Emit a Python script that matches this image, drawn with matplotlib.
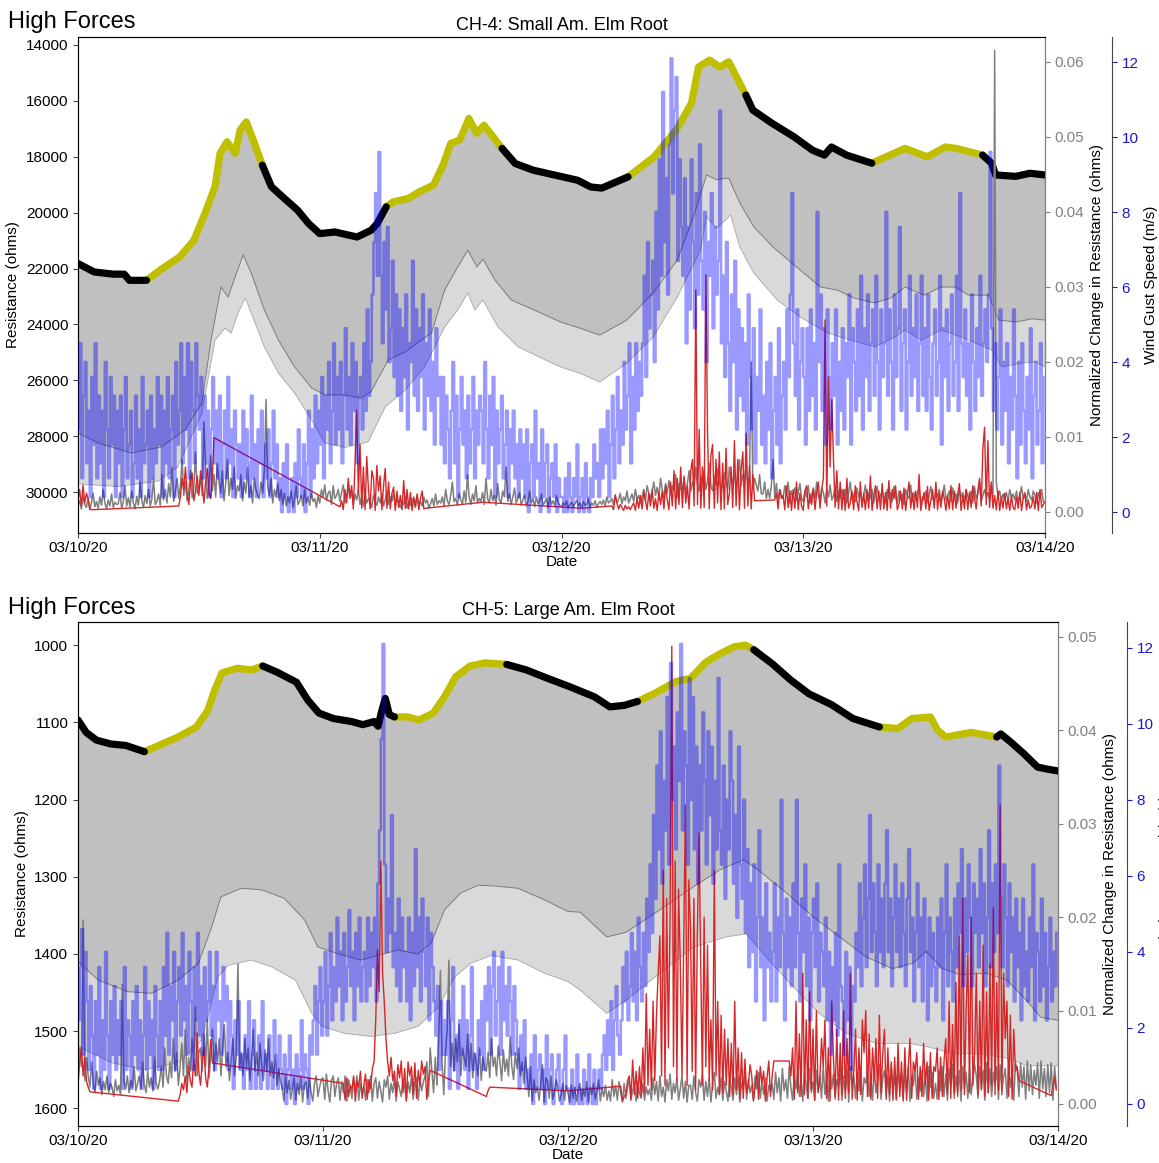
import numpy as np
import matplotlib
matplotlib.use("Agg")
import matplotlib.pyplot as plt

plt.rcParams['font.family'] = ['Liberation Sans', 'DejaVu Sans']

# ---------------- shared ----------------
X_TICKS_H = [0, 24, 48, 72, 96]
X_TICK_LABELS = ['03/10/20', '03/11/20', '03/12/20', '03/13/20', '03/14/20']
SUPER = "High Forces"
TITLE4 = "CH-4: Small Am. Elm Root"
TITLE5 = "CH-5: Large Am. Elm Root"

# ---------------- CH-4 (top) ----------------
RES4_T = [0, 1.6, 3.5, 4.6, 5.1, 6.8, 8.2, 10.1, 11.5, 12.6, 13.6, 14.1, 14.8, 15.6, 16.1, 16.7, 17.4, 18.3,
          19.2, 20.3, 21.8, 22.9, 24.0, 25.5, 27.7, 29.1, 29.7, 30.6, 31.3, 32.8, 33.9, 35.3, 36.3, 37.0,
          37.9, 38.8, 39.6, 40.3, 41.2, 42.1, 43.4, 45.2, 47.4, 49.6, 50.9, 52.0, 54.6, 57.2, 59.4, 60.9,
          61.6, 62.7, 63.7, 64.6, 66.3, 67.0, 68.9, 71.1, 72.9, 74.1, 74.8, 76.3, 78.8, 82.1, 84.3, 86.1,
          87.2, 89.8, 90.7, 91.1, 93.1, 94.5, 96.0]
RES4_V = [21820, 22120, 22200, 22200, 22420, 22420, 22040, 21580, 20990, 20030, 19070, 17880, 17460, 17880,
          17040, 16750, 17400, 18300, 19070, 19430, 19910, 20390, 20750, 20690, 20870, 20630, 20390, 19790,
          19610, 19490, 19250, 19010, 18240, 17520, 17400, 16630, 17160, 16870, 17280, 17700, 18240, 18480,
          18660, 18840, 19080, 19120, 18720, 18000, 17040, 16080, 14790, 14540, 14790, 14600, 15790, 16330,
          16800, 17290, 17760, 17940, 17650, 17940, 18230, 17700, 18000, 17650, 17700, 17940, 18230, 18650,
          18700, 18590, 18650]
DAY4 = [(6.8, 18.3), (30.6, 42.1), (54.6, 66.3), (78.8, 89.8)]

MID4_T = [0, 2, 5.3, 8.3, 10.6, 12.3, 13.2, 14.2, 14.9, 15.6, 16.4, 17.2, 18.5, 19.9, 21.5, 23.2, 24.5, 26.5,
          28.1, 29.1, 30.8, 32.5, 34.1, 35.1, 36.4, 37.7, 38.7, 39.6, 40.2, 41.4, 43.0, 45.7, 47.9, 49.8,
          51.8, 54.5, 57.1, 59.5, 61.1, 62.4, 63.4, 64.6, 65.7, 67.1, 69.0, 71.1, 73.7, 75.4, 77.0, 79.1,
          80.7, 82.1, 84.0, 85.7, 87.1, 88.4, 90.4, 91.4, 93.1, 94.7, 96.0]
MID4_V = [27880, 28240, 28600, 28380, 27780, 26810, 24560, 22660, 23020, 22300, 21510, 22160, 23480, 24560,
          25520, 26270, 26520, 26520, 26640, 26400, 25270, 24980, 24560, 24300, 22770, 21940, 21340, 21940,
          21660, 22410, 23120, 23550, 23910, 24130, 24380, 23840, 22870, 21690, 20150, 18650, 18820, 18760,
          19650, 20510, 21230, 21870, 22660, 22770, 23050, 23230, 23050, 22660, 22950, 22660, 22660, 22950,
          22950, 23840, 23910, 23800, 23840]
LOW4_T = [0, 4, 8, 9.9, 12.3, 13.6, 14.6, 15.2, 15.9, 16.6, 17.2, 18.5, 19.9, 21.5, 23.2, 24.5, 26.5, 28.8,
          30.5, 32.5, 34.4, 36.4, 37.7, 38.7, 39.4, 40.2, 41.7, 43.7, 46.4, 47.9, 49.8, 51.8, 54.5, 57.1,
          59.5, 61.8, 62.4, 63.4, 64.8, 65.7, 67.1, 69.4, 71.7, 74.4, 76.7, 79.1, 81.1, 82.1, 83.7, 85.7,
          87.7, 90.7, 91.7, 93.7, 95.0, 96.0]
LOW4_V = [29700, 29800, 29600, 29100, 27170, 24560, 24130, 24310, 23590, 23050, 23590, 24800, 25740, 26450,
          27420, 28240, 28400, 28200, 26950, 26340, 25520, 24090, 23480, 22870, 23480, 23120, 24090, 24800,
          25270, 25520, 25740, 26060, 25380, 24450, 23020, 21340, 20150, 20560, 20080, 21230, 22160, 23120,
          23730, 24300, 24560, 24800, 24450, 24200, 24560, 24200, 24450, 24910, 25520, 25380, 25340, 25520]

# wind gust, 10-minute samples from 03/10 00:00, in 0.1 m/s
WIND4 = [
    22, 45, 9, 31, 40, 13, 27, 4, 36, 18, 45, 9, 31, 13, 27, 4, 40, 22, 9, 36, 18, 31, 4, 27,
    13, 31, 4, 22, 36, 9, 18, 27, 4, 13, 31, 9, 22, 4, 36, 13, 18, 27, 4, 31, 9, 22, 13, 36,
    18, 31, 4, 27, 13, 36, 9, 22, 31, 4, 40, 18, 27, 45, 13, 36, 22, 45, 9, 40, 27, 13, 45, 31,
    22, 36, 9, 31, 13, 27, 4, 22, 36, 13, 27, 9, 31, 4, 18, 27, 9, 36, 13, 22, 4, 27, 18, 9,
    18, 4, 27, 9, 22, 13, 4, 31, 9, 18, 4, 22, 13, 27, 4, 18, 9, 22, 4, 13, 27, 9, 18, 4,
    9, 0, 13, 4, 18, 0, 4, 9, 0, 13, 4, 22, 9, 4, 18, 0, 13, 27, 4, 22, 9, 31, 13, 27,
    18, 36, 9, 31, 22, 40, 13, 27, 45, 18, 36, 22, 40, 13, 31, 49, 22, 36, 18, 45, 27, 40, 13, 31,
    36, 22, 45, 27, 54, 31, 40, 58, 72, 85, 63, 96, 63, 45, 72, 54, 76, 40, 49, 67, 36, 58, 31, 54,
    27, 49, 36, 58, 22, 45, 40, 67, 31, 54, 27, 49, 36, 58, 22, 45, 31, 54, 27, 40, 18, 49, 31, 36,
    18, 36, 13, 31, 22, 9, 27, 40, 13, 31, 4, 22, 36, 18, 27, 9, 31, 13, 22, 36, 9, 27, 18, 31,
    27, 13, 40, 22, 9, 31, 18, 36, 4, 27, 13, 22, 31, 9, 18, 27, 4, 22, 13, 27, 9, 18, 4, 22,
    9, 18, 4, 22, 0, 13, 18, 4, 27, 9, 13, 0, 22, 4, 13, 18, 0, 9, 13, 4, 18, 0, 9, 4,
    4, 0, 9, 0, 13, 4, 0, 9, 4, 18, 0, 4, 9, 0, 13, 4, 0, 9, 4, 18, 9, 13, 4, 22,
    9, 22, 13, 27, 4, 18, 31, 9, 22, 36, 13, 27, 18, 40, 22, 31, 45, 13, 36, 22, 45, 27, 40, 31,
    45, 63, 36, 72, 49, 58, 67, 40, 80, 54, 94, 63, 112, 72, 89, 58, 98, 121, 85, 107, 116, 67, 94, 76,
    63, 89, 45, 76, 54, 94, 72, 49, 85, 58, 98, 67, 54, 80, 40, 72, 63, 85, 49, 76, 58, 67, 107, 45,
    63, 36, 72, 45, 27, 58, 40, 67, 22, 54, 31, 49, 27, 45, 18, 58, 36, 22, 49, 13, 36, 27, 54, 18,
    31, 13, 40, 22, 45, 9, 27, 36, 18, 49, 13, 31, 40, 22, 54, 36, 58, 85, 45, 31, 54, 22, 40, 49,
    36, 18, 49, 27, 54, 31, 45, 22, 80, 40, 58, 27, 49, 18, 54, 36, 22, 45, 31, 54, 18, 40, 27, 49,
    22, 45, 36, 58, 18, 49, 40, 27, 54, 31, 63, 22, 49, 36, 58, 27, 45, 54, 31, 63, 40, 22, 54, 36,
    45, 80, 31, 54, 40, 22, 58, 36, 49, 76, 27, 45, 54, 22, 40, 63, 31, 49, 36, 58, 27, 45, 63, 31,
    49, 27, 58, 36, 22, 45, 54, 31, 40, 63, 18, 49, 36, 54, 27, 45, 58, 31, 40, 63, 27, 85, 45, 36,
    54, 31, 45, 22, 58, 40, 27, 49, 36, 63, 31, 45, 54, 40, 58, 96, 49, 27, 45, 22, 36, 54, 18, 40,
    27, 45, 13, 36, 22, 54, 31, 9, 40, 18, 45, 27, 13, 36, 22, 49, 9, 31, 40, 18, 27, 45, 13, 36,
]

# normalized change (all samples), 10-minute samples, in 1e-4
GRAY4 = [
    8, 15, 4, 22, 10, 6, 18, 3, 12, 25, 7, 14, 5, 20, 9, 30, 12, 4, 16, 8, 24, 6, 13, 10,
    11, 26, 5, 14, 35, 8, 19, 7, 28, 12, 4, 21, 9, 40, 15, 6, 22, 11, 30, 8, 17, 45, 10, 14,
    24, 9, 50, 16, 30, 12, 38, 20, 60, 14, 27, 45, 18, 35, 70, 22, 40, 15, 28, 55, 19, 33, 80, 25,
    30, 45, 22, 120, 60, 18, 35, 75, 28, 50, 20, 65, 40, 25, 55, 15, 38, 70, 22, 45, 30, 60, 18, 35,
    28, 50, 15, 40, 25, 60, 20, 35, 12, 45, 30, 22, 18, 40, 25, 55, 150, 33, 22, 45, 12, 30, 20, 38,
    15, 30, 10, 25, 8, 20, 12, 28, 6, 18, 35, 10, 14, 22, 8, 30, 12, 20, 9, 25, 14, 18, 6, 22,
    12, 30, 20, 36, 15, 25, 28, 10, 35, 18, 22, 30, 14, 26, 36, 12, 20, 32, 18, 28, 10, 24, 16, 30,
    10, 20, 8, 25, 12, 18, 15, 6, 22, 14, 9, 20, 12, 24, 8, 16, 28, 10, 20, 14, 26, 8, 18, 12,
    6, 15, 10, 20, 5, 14, 9, 18, 12, 6, 22, 10, 14, 8, 20, 12, 16, 5, 11, 18, 8, 24, 10, 15,
    12, 20, 8, 30, 15, 10, 22, 40, 14, 18, 9, 25, 16, 11, 28, 13, 50, 20, 10, 24, 15, 35, 12, 18,
    14, 26, 10, 45, 18, 12, 30, 15, 22, 9, 38, 16, 12, 28, 20, 60, 14, 24, 10, 20, 32, 12, 18, 26,
    9, 16, 22, 8, 14, 28, 12, 18, 7, 20, 11, 15, 24, 9, 13, 18, 6, 20, 10, 15, 8, 22, 12, 9,
    6, 12, 9, 15, 5, 10, 13, 7, 11, 16, 8, 12, 5, 14, 9, 10, 18, 7, 12, 9, 15, 6, 11, 14,
    10, 16, 8, 20, 12, 14, 18, 9, 22, 13, 16, 25, 11, 20, 15, 28, 12, 18, 24, 14, 30, 17, 22, 12,
    20, 30, 15, 35, 25, 18, 28, 40, 22, 33, 20, 45, 30, 18, 38, 26, 42, 24, 35, 28, 50, 20, 38, 30,
    30, 45, 25, 38, 55, 28, 40, 32, 60, 35, 28, 48, 38, 55, 30, 42, 65, 35, 28, 48, 36, 58, 40, 30,
    35, 52, 40, 30, 60, 45, 38, 55, 28, 46, 70, 35, 50, 40, 62, 38, 48, 200, 30, 45, 36, 28, 50, 24,
    24, 40, 18, 30, 18, 35, 70, 20, 38, 15, 30, 22, 18, 35, 25, 40, 12, 28, 20, 32, 15, 26, 38, 18,
    14, 28, 20, 35, 12, 24, 30, 18, 40, 22, 15, 32, 26, 12, 30, 20, 36, 16, 22, 34, 14, 28, 18, 30,
    18, 30, 12, 26, 40, 16, 24, 14, 32, 20, 28, 10, 22, 36, 15, 26, 18, 30, 12, 24, 34, 16, 22, 28,
    20, 12, 30, 18, 26, 14, 34, 20, 12, 28, 16, 24, 10, 30, 22, 18, 36, 14, 26, 16, 24, 32, 12, 20,
    16, 28, 12, 22, 34, 18, 14, 26, 20, 30, 12, 24, 36, 16, 22, 28, 14, 32, 18, 24, 12, 30, 20, 26,
    14, 30, 22, 16, 28, 12, 34, 18, 24, 40, 14, 22, 30, 20, 26, 16, 36, 18, 615, 40, 20, 28, 16, 24,
    18, 26, 14, 30, 20, 24, 16, 28, 12, 22, 34, 18, 26, 14, 30, 20, 16, 28, 22, 12, 26, 18, 30, 14,
]

# normalized change during high-force periods: (start hour, 10-minute samples in 1e-4)
RED4 = [
    (0.0, [15, 30, 8, 36, 12, 25, 18, 5, 3]),
    (10.0, [8, 20, 45, 30, 60, 25, 10, 38, 52, 15, 28, 48, 22, 55, 35, 12, 40, 58, 25, 18, 45, 99]),
    (26.0, [7, 15, 3, 30, 12, 45, 20, 35, 4, 65, 136, 25, 90, 5, 60, 3, 74, 30,
            4, 55, 45, 2, 62, 28, 48, 3, 35, 58, 5, 40, 4, 25, 33, 2, 28, 6,
            22, 3, 42, 5, 30, 4, 26, 2, 20, 8, 24, 3, 18, 28, 4, 5]),
    (40.1667, [13]),
    (50.0, [5]),
    (53.0, [8, 3, 23, 12, 4, 10, 6, 2, 9, 4, 7, 3, 8, 12, 2, 18, 5, 22,
            4, 28, 15, 3, 25, 8, 30, 5, 18, 2, 26, 10, 28, 4, 35, 16, 3, 40,
            8, 55, 4, 45, 10, 60, 6, 48, 12, 35, 4, 55, 70, 8, 296, 10, 110, 5,
            60, 6, 316, 105, 4, 75, 90, 5, 70, 12, 80, 3, 65, 4, 85, 10, 25, 60,
            6, 95, 8, 70, 3, 55, 80, 5, 105, 8, 62, 4, 50, 15]),
    (69.1667, [16, 25, 4, 30, 18,
               22, 3, 35, 6, 28, 2, 30, 5, 40, 3, 25, 8, 2, 28, 35, 4, 24, 10,
               32, 3, 26, 40, 5, 30, 45, 256, 8, 180, 60, 150, 70, 6, 55, 4, 40, 3,
               30, 2, 45, 5, 12, 28, 3, 35, 14, 2, 40, 6, 25, 3, 30, 5, 48, 2,
               22, 35, 4, 28, 3, 38, 4, 26, 2, 42, 5, 30, 18, 35, 3, 10, 28, 4,
               32, 2, 22, 40, 5, 25, 3, 28, 6, 50, 2, 16, 26, 4, 34, 2, 15, 30,
               5, 40, 3, 25, 6, 28, 18, 2, 22, 4, 35, 3, 28, 5, 24, 38, 2, 22,
               4, 30, 3, 26, 6, 35, 20, 4, 28, 45, 8, 85, 113, 10, 95, 6, 40, 5,
               22, 3, 28, 2, 20, 5, 25, 4, 18, 2, 22, 6, 3, 20, 5, 26, 2, 18,
               24, 3, 16, 5, 8, 20, 4, 26, 2, 30, 6, 10, 14]),
]

# ---------------- CH-5 (bottom) ----------------
RES5_T = [0, 0.8, 1.8, 3.2, 4.7, 6.5, 7.9, 9.8, 11.6, 12.7, 13.4, 14.1, 15.6, 17.0, 18.1, 19.5, 21.4, 22.5,
          23.6, 25.0, 26.8, 27.9, 29.0, 29.4, 29.7, 30.1, 30.5, 31.0, 32.3, 33.4, 34.8, 35.9, 37.0, 38.4,
          39.9, 42.0, 43.9, 46.0, 48.2, 50.6, 52.1, 53.5, 54.8, 56.4, 58.6, 60.0, 61.5, 62.9, 64.3, 65.4,
          66.2, 68.0, 69.8, 71.6, 73.8, 75.9, 78.5, 80.3, 81.7, 83.5, 84.2, 85.0, 87.5, 90.0, 90.4, 91.5,
          92.6, 94.0, 95.1, 96.0]
RES5_V = [1097, 1113, 1123, 1128, 1130, 1138, 1130, 1119, 1106, 1085, 1058, 1036, 1030, 1032, 1027, 1035,
          1048, 1071, 1088, 1095, 1099, 1103, 1099, 1105, 1088, 1069, 1090, 1093, 1093, 1097, 1088, 1067,
          1041, 1027, 1023, 1025, 1032, 1043, 1054, 1067, 1080, 1078, 1073, 1063, 1047, 1043, 1022, 1011,
          1002, 1000, 1006, 1024, 1045, 1063, 1077, 1095, 1106, 1108, 1095, 1093, 1110, 1119, 1113, 1119,
          1115, 1127, 1140, 1158, 1161, 1163]
DAY5 = [(6.5, 18.1), (31.0, 42.0), (54.8, 66.2), (78.5, 90.0)]

MID5_T = [0, 2, 4.9, 7.2, 9.8, 11.8, 13.1, 14.0, 16.0, 18.0, 20.2, 22.2, 23.5, 25.5, 27.7, 29.4, 31.3, 33.3,
          34.6, 35.9, 37.5, 39.2, 40.8, 43.1, 45.7, 48.0, 49.2, 51.8, 53.7, 57.0, 60.3, 62.9, 65.2, 66.8,
          69.4, 72.0, 75.0, 77.2, 79.8, 81.8, 83.1, 84.7, 86.4, 89.0, 91.0, 92.9, 94.3, 96.0]
MID5_V = [1410, 1434, 1449, 1451, 1434, 1412, 1365, 1326, 1315, 1317, 1328, 1356, 1391, 1400, 1408, 1402,
          1395, 1400, 1386, 1343, 1321, 1311, 1312, 1315, 1330, 1345, 1346, 1378, 1372, 1343, 1313, 1291,
          1278, 1293, 1321, 1352, 1382, 1404, 1419, 1412, 1397, 1419, 1427, 1425, 1434, 1460, 1482, 1486]
LOW5_T = [0, 3.3, 6.5, 9.8, 12.1, 13.7, 14.7, 17.0, 19.0, 21.3, 22.9, 23.9, 26.1, 28.7, 31.0, 33.3, 35.3,
          36.9, 38.5, 40.5, 43.1, 45.7, 48.0, 49.2, 51.8, 53.7, 57.0, 60.3, 63.5, 65.5, 67.4, 70.1, 72.6,
          75.3, 78.2, 81.5, 83.1, 85.7, 88.3, 91.0, 93.0, 96.0]
LOW5_V = [1520, 1541, 1550, 1541, 1512, 1430, 1415, 1408, 1417, 1434, 1477, 1494, 1503, 1507, 1503, 1494,
          1469, 1430, 1412, 1402, 1408, 1425, 1436, 1447, 1477, 1460, 1425, 1391, 1378, 1374, 1404, 1443,
          1477, 1503, 1516, 1516, 1520, 1529, 1529, 1535, 1545, 1545]

WIND5 = [
    22, 36, 46, 13, 40, 27, 9, 31, 18, 4, 27, 13, 36, 4, 22, 9, 40, 18, 4, 27, 13, 31, 9, 22,
    13, 27, 4, 36, 9, 22, 18, 4, 27, 13, 31, 9, 22, 4, 18, 36, 9, 27, 13, 22, 4, 31, 18, 9,
    27, 9, 36, 18, 45, 13, 31, 22, 40, 9, 27, 36, 18, 45, 22, 31, 13, 40, 27, 9, 36, 22, 45, 18,
    31, 13, 36, 22, 27, 40, 18, 31, 9, 40, 22, 27, 13, 36, 22, 31, 9, 27, 18, 4, 22, 13, 27, 9,
    13, 4, 18, 9, 27, 4, 13, 22, 4, 9, 18, 4, 27, 9, 13, 4, 18, 9, 4, 22, 13, 4, 18, 9,
    4, 13, 0, 9, 18, 4, 9, 0, 13, 4, 9, 22, 4, 13, 9, 0, 18, 13, 22, 31, 13, 27, 36, 18,
    27, 40, 18, 31, 45, 22, 36, 27, 49, 31, 40, 22, 45, 27, 36, 51, 31, 40, 22, 45, 31, 49, 27, 36,
    40, 27, 49, 31, 45, 36, 49, 27, 58, 72, 96, 121, 63, 40, 54, 45, 76, 36, 45, 31, 54, 27, 49, 36,
    40, 27, 49, 22, 45, 31, 67, 36, 49, 27, 54, 40, 31, 49, 22, 45, 36, 27, 18, 31, 9, 27, 13, 22,
    13, 27, 4, 22, 36, 9, 18, 4, 22, 13, 31, 9, 22, 4, 18, 36, 9, 13, 4, 22, 13, 27, 9, 31,
    22, 36, 13, 31, 40, 18, 27, 36, 13, 40, 22, 31, 18, 36, 27, 13, 31, 22, 13, 4, 18, 9, 22, 4,
    9, 4, 13, 0, 18, 4, 9, 13, 4, 9, 0, 18, 4, 9, 13, 0, 4, 9, 13, 4, 0, 9, 18, 4,
    4, 0, 9, 0, 4, 13, 0, 4, 0, 9, 4, 0, 13, 4, 0, 9, 0, 4, 9, 4, 13, 18, 9, 22,
    13, 27, 9, 22, 31, 18, 13, 22, 36, 27, 40, 22, 31, 45, 27, 40, 22, 49, 36, 27, 45, 31, 54, 40,
    63, 45, 76, 54, 89, 67, 98, 58, 85, 72, 107, 63, 116, 80, 94, 67, 103, 85, 121, 72, 98, 89, 63, 112,
    80, 107, 67, 94, 58, 89, 72, 103, 85, 63, 98, 76, 94, 58, 85, 67, 112, 72, 63, 89, 54, 80, 67, 98,
    85, 58, 76, 49, 94, 63, 54, 80, 45, 67, 36, 58, 40, 63, 27, 49, 72, 36, 49, 22, 58, 36, 45, 27,
    40, 58, 27, 49, 36, 80, 45, 22, 54, 36, 49, 31, 58, 36, 80, 45, 27, 54, 40, 63, 31, 49, 22, 45,
    54, 36, 58, 27, 45, 40, 31, 49, 22, 40, 13, 36, 22, 45, 18, 63, 31, 27, 13, 40, 22, 36, 9, 31,
    27, 45, 36, 58, 31, 49, 63, 36, 54, 76, 40, 58, 45, 31, 63, 40, 54, 36, 58, 72, 40, 54, 31, 49,
    63, 40, 54, 36, 58, 45, 31, 54, 67, 40, 49, 27, 45, 58, 36, 49, 27, 54, 40, 22, 49, 31, 45, 36,
    27, 49, 36, 54, 22, 45, 63, 31, 49, 40, 27, 54, 36, 58, 45, 67, 31, 54, 40, 63, 49, 31, 58, 45,
    54, 36, 67, 45, 58, 31, 49, 72, 36, 58, 40, 63, 45, 89, 54, 36, 63, 49, 31, 58, 40, 49, 27, 54,
    36, 45, 22, 54, 31, 40, 27, 49, 36, 63, 22, 45, 40, 27, 54, 31, 45, 22, 36, 49, 27, 40, 31, 45,
]

GRAY5 = [
    35, 60, 40, 197, 25, 50, 30, 18, 45, 22, 12, 35, 20, 28, 10, 24, 15, 30, 12, 22, 18, 8, 26, 14,
    20, 10, 128, 24, 16, 30, 12, 25, 18, 40, 14, 22, 30, 16, 45, 20, 12, 35, 18, 28, 14, 50, 22, 16,
    25, 40, 18, 60, 30, 22, 45, 28, 70, 35, 55, 20, 40, 65, 30, 80, 25, 50, 35, 70, 45, 104, 30, 55,
    60, 35, 75, 40, 90, 28, 50, 80, 35, 65, 45, 70, 30, 60, 85, 40, 55, 25, 45, 70, 30, 50, 150, 38,
    55, 30, 70, 40, 60, 25, 48, 80, 35, 55, 30, 65, 40, 25, 58, 35, 70, 30, 45, 28, 52, 20, 38, 24,
    18, 3, 30, 12, 25, 5, 16, 28, 4, 22, 10, 30, 2, 20, 24, 6, 28, 12, 3, 22, 30, 8, 18, 26,
    28, 5, 32, 14, 2, 25, 30, 8, 22, 28, 4, 24, 12, 30, 3, 26, 18, 6, 28, 14, 30, 4, 22, 10,
    20, 4, 26, 12, 30, 3, 22, 28, 6, 24, 14, 2, 26, 18, 30, 5, 22, 12, 28, 3, 24, 16, 8, 26,
    18, 3, 24, 12, 30, 5, 22, 28, 4, 26, 14, 24, 30, 45, 8, 60, 35, 12, 50, 20, 70, 143, 45, 10,
    55, 80, 154, 40, 65, 35, 70, 45, 85, 30, 60, 50, 40, 75, 35, 65, 28, 55, 45, 30, 60, 25, 50, 38,
    35, 55, 28, 70, 40, 50, 30, 62, 45, 25, 58, 35, 48, 30, 72, 40, 26, 55, 38, 60, 30, 45, 22, 50,
    30, 8, 40, 3, 26, 12, 18, 4, 22, 42, 2, 28, 24, 6, 30, 5, 12, 26, 18, 3, 10, 22, 4, 20,
    12, 2, 20, 6, 18, 3, 14, 22, 4, 16, 8, 24, 2, 18, 10, 22, 5, 14, 26, 3, 16, 8, 20, 4,
    14, 3, 26, 8, 20, 4, 24, 12, 2, 22, 6, 18, 26, 5, 14, 20, 3, 24, 12, 6, 22, 4, 18, 10,
    16, 4, 28, 10, 24, 3, 30, 8, 18, 2, 26, 14, 32, 5, 22, 12, 28, 4, 16, 30, 6, 24, 2, 20,
    20, 5, 30, 12, 3, 26, 18, 32, 4, 24, 8, 28, 2, 22, 34, 6, 18, 10, 28, 4, 24, 14, 3, 26,
    18, 4, 28, 10, 30, 2, 22, 16, 32, 5, 26, 12, 20, 3, 30, 16, 34, 6, 24, 10, 28, 3, 20, 14,
    22, 5, 34, 12, 28, 3, 38, 14, 26, 6, 40, 18, 4, 30, 16, 36, 8, 28, 3, 34, 20, 6, 38, 12,
    24, 4, 36, 14, 30, 6, 40, 10, 28, 3, 42, 16, 32, 5, 26, 18, 38, 4, 30, 12, 36, 2, 40, 20,
    30, 6, 34, 14, 40, 3, 28, 22, 36, 8, 30, 4, 38, 12, 26, 42, 5, 28, 36, 10, 30, 3, 40, 18,
    28, 4, 38, 16, 32, 6, 36, 12, 40, 3, 30, 20, 38, 5, 28, 14, 36, 8, 32, 3, 40, 18, 34, 6,
    22, 5, 36, 14, 40, 8, 32, 4, 38, 18, 42, 6, 30, 12, 36, 3, 40, 16, 34, 6, 38, 10, 30, 42,
    30, 6, 40, 16, 36, 4, 44, 12, 38, 8, 34, 20, 40, 5, 42, 14, 28, 38, 6, 40, 18, 34, 4, 44,
    38, 8, 44, 18, 40, 5, 46, 14, 42, 10, 36, 20, 44, 6, 46, 16, 38, 8, 42, 12, 44, 4, 40, 18,
]

RED5 = [
    (0.0, [20, 45, 61, 30, 50, 24, 18, 13]),
    (9.8333, [3, 10, 22, 15, 30, 12, 40, 25, 18, 48, 30, 76, 35, 20, 45, 61, 28, 18, 40, 69, 44]),
    (26.0, [22, 4, 28, 8, 20, 15, 30, 3, 25, 18, 35, 6, 20, 32, 5, 26, 16, 38,
            45, 90, 165, 120, 260, 140, 110, 70, 45, 30, 50, 25, 35, 8, 42, 28, 46, 12,
            38, 4, 45, 30, 40, 10, 44, 6, 36, 20, 46, 32, 40, 5, 25, 36]),
    (40.0, [8, 14, 18]),
    (48.0, [14]),
    (53.1667, [19, 3, 8, 10, 25,
               30, 4, 47, 10, 35, 6, 40, 8, 60, 12, 118, 20, 80, 15, 110, 25, 95, 140,
               180, 30, 250, 20, 220, 60, 200, 490, 40, 260, 25, 230, 150, 30, 170, 320, 20, 240,
               190, 35, 220, 15, 180, 290, 150, 20, 200, 40, 170, 25, 90, 15, 250, 30, 110, 10,
               95, 12, 80, 20, 70, 8, 65, 10, 110, 15, 60, 5, 55, 6, 48, 12, 20, 42,
               30, 4, 18, 36, 5, 40, 22, 35, 3, 28, 46, 8, 30, 46]),
    (69.6667, [46, 30,
               60, 5, 110, 12, 75, 8, 140, 10, 90, 6, 120, 15, 80, 4, 100, 12, 25, 70,
               40, 90, 6, 60, 3, 110, 50, 8, 80, 4, 65, 10, 100, 6, 70, 12, 140, 5,
               35, 80, 4, 60, 10, 90, 55, 100, 8, 75, 5, 60, 25, 70, 6, 95, 12, 55,
               80, 5, 60, 10, 45, 4, 50, 6, 65, 8, 45, 3, 60, 4, 40, 70, 6, 45,
               35, 55, 5, 40, 8, 65, 20, 45, 4, 55, 6, 40, 35, 60, 5, 50, 8, 45,
               70, 10, 110, 6, 85, 12, 130, 8, 180, 15, 220, 10, 100, 160, 12, 200, 20, 55,
               140, 10, 110, 15, 170, 8, 120, 12, 150, 20, 210, 10, 130, 15, 320, 10, 140, 70,
               110, 8, 95, 5, 80, 35, 40, 25]),
    (95.3333, [9, 18, 29, 15]),
]

# ---------------- styles ----------------
YEL = '#bfbf00'
DARK_FILL = '#c0c0c0'
LIGHT_FILL = '#d9d9d9'
GRAY_LINE = '#7f7f7f'
RED = '#d62728'
BLUE_TICK = '#1a1acc'

W, H = 1159, 1163
fig = plt.figure(figsize=(W / 100, H / 100), dpi=100)


def seg_series(segs):
    ts, vs = [], []
    for start, vals in segs:
        ts.append(start + np.arange(len(vals)) / 6.0)
        vs.append(np.asarray(vals, float))
    return np.concatenate(ts), np.concatenate(vs)


def draw_panel(px_left, px_right, px_top, px_bot, title, res_t, res_v, day, mid_t, mid_v, low_t, low_v,
               gray, red_segs, wind, rlim, rticks, nlim, nticks, wlim, wpos, sup_y):
    rect = [px_left / W, 1 - px_bot / H, (px_right - px_left) / W, (px_bot - px_top) / H]
    ax = fig.add_axes(rect)
    res_t = np.asarray(res_t, float); res_v = np.asarray(res_v, float)
    mid_t = np.asarray(mid_t, float); mid_v = np.asarray(mid_v, float)
    low_t = np.asarray(low_t, float); low_v = np.asarray(low_v, float)

    ax.fill(np.r_[res_t, mid_t[::-1]], np.r_[res_v, mid_v[::-1]], color=DARK_FILL, lw=0, zorder=1)
    ax.fill(np.r_[mid_t, low_t[::-1]], np.r_[mid_v, low_v[::-1]], color=LIGHT_FILL, lw=0, zorder=1)
    ax.plot(mid_t, mid_v, color='#7a7a7a', lw=0.7, zorder=2)
    ax.plot(low_t, low_v, color='#a5a5a5', lw=0.6, zorder=2)

    edges = [res_t[0]] + [e for s in day for e in s] + [res_t[-1]]
    for k in range(len(edges) - 1):
        a, b = edges[k], edges[k + 1]
        m = (res_t >= a - 1e-6) & (res_t <= b + 1e-6)
        is_day = (k % 2 == 1)
        ax.plot(res_t[m], res_v[m], color=YEL if is_day else 'black', lw=5.2,
                solid_capstyle='round', zorder=3 if is_day else 4)

    ax.set_xlim(0, 96)
    ax.set_ylim(*rlim)
    ax.set_yticks(rticks)
    ax.set_xticks(X_TICKS_H)
    ax.set_xticklabels(X_TICK_LABELS)
    ax.tick_params(labelsize=11, color='#444444')
    ax.tick_params(axis='x', pad=2)
    ax.set_ylabel('Resistance (ohms)', fontsize=11)
    ax.set_xlabel('Date', fontsize=11, labelpad=0)
    ax.set_title(title, fontsize=13, pad=5)
    for s in ax.spines.values():
        s.set_color('#444444')

    ax2 = ax.twinx()
    tg = np.arange(len(gray)) / 6.0
    ax2.plot(tg, np.asarray(gray) * 1e-4, color=GRAY_LINE, lw=1.1)
    rt, rv = seg_series(red_segs)
    ax2.plot(rt, rv * 1e-4, color=RED, lw=1.0)
    ax2.set_ylim(*nlim)
    ax2.set_yticks(nticks)
    ax2.set_yticklabels(['%.2f' % v for v in nticks])
    ax2.tick_params(axis='y', colors='#808080', labelsize=11)
    ax2.spines['right'].set_color('#808080')
    ax2.set_ylabel('Normalized Change in Resistance (ohms)', fontsize=11, color='black')
    ax2.set_xlim(0, 96)

    ax3 = ax.twinx()
    tw = np.arange(len(wind)) / 6.0
    ax3.plot(tw, np.asarray(wind) * 0.1, color='blue', alpha=0.4, lw=1.9, drawstyle='steps-post')
    ax3.set_ylim(*wlim)
    ax3.set_yticks([0, 2, 4, 6, 8, 10, 12])
    ax3.spines['right'].set_position(('axes', wpos))
    ax3.spines['right'].set_color('#444444')
    for s in ['left', 'top', 'bottom']:
        ax3.spines[s].set_visible(False)
    ax3.tick_params(axis='y', colors=BLUE_TICK, labelsize=11)
    ax3.set_ylabel('Wind Gust Speed (m/s)', fontsize=11, color='black')
    ax3.set_xlim(0, 96)

    fig.text(8 / W, 1 - sup_y / H, SUPER, fontsize=17, va='center', ha='left')


draw_panel(78, 1045, 37, 533, TITLE4, RES4_T, RES4_V, DAY4, MID4_T, MID4_V, LOW4_T, LOW4_V,
           GRAY4, RED4, WIND4, (31461, 13714), list(range(14000, 30001, 2000)),
           (-0.0028, 0.0633), [0, 0.01, 0.02, 0.03, 0.04, 0.05, 0.06], (-0.56, 12.667), 1.069, 22)

draw_panel(78, 1058, 622, 1126, TITLE5, RES5_T, RES5_V, DAY5, MID5_T, MID5_V, LOW5_T, LOW5_V,
           GRAY5, RED5, WIND5, (1623, 970), list(range(1000, 1601, 100)),
           (-0.00236, 0.0516), [0, 0.01, 0.02, 0.03, 0.04, 0.05], (-0.58, 12.68), 1.0704, 608)

fig.savefig('out.png', dpi=100)
